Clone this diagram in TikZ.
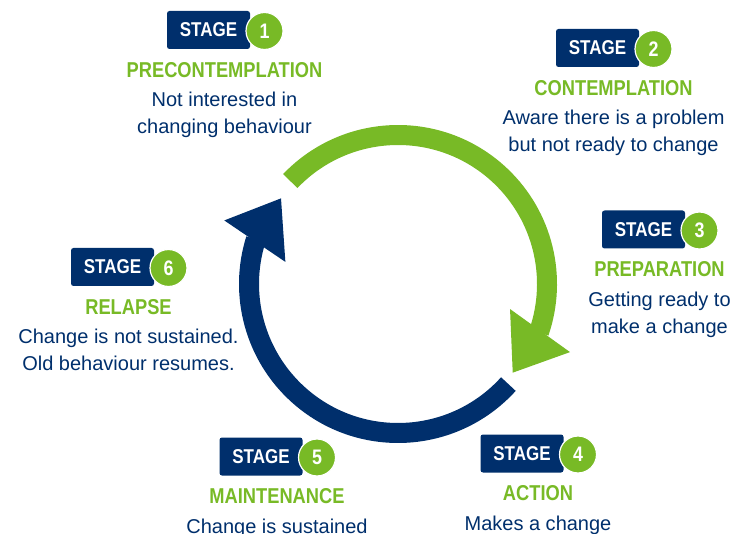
\documentclass[tikz,border=0pt]{standalone}
\usepackage{fontspec}
\setmainfont{Liberation Sans}
\newfontfamily\narrowfont[FakeStretch=0.85]{Liberation Sans}
\usetikzlibrary{positioning}
\definecolor{stageNavy}{RGB}{0,47,108}
\definecolor{stageGreen}{RGB}{120,186,38}

\begin{document}
\begin{tikzpicture}[
    x=1pt, y=1pt,
    ring/.style={line width=20pt},
    stagebox/.style={rounded corners=2.5pt, fill=stageNavy, text=white, minimum width=83pt, minimum height=38pt, inner sep=0pt, font=\narrowfont\bfseries\fontsize{20}{24}\selectfont},
    stagenum/.style={circle, fill=stageGreen, draw=white, line width=1.2pt, minimum size=37pt, inner sep=0pt, text=white, font=\narrowfont\bfseries\fontsize{21}{24}\selectfont},
    stagename/.style={text=stageGreen, inner sep=0pt, font=\narrowfont\bfseries\fontsize{21.5}{24}\selectfont},
    stagenote/.style={text=stageNavy, align=center, inner sep=0pt, anchor=north, font=\fontsize{20}{27}\selectfont}
  ]
  \useasboundingbox (0,0) rectangle (735,533);

  % the two arrows of the cycle; the navy one is the green one turned round
  \foreach \col/\rot in {stageGreen/0, stageNavy/181.5} {
    \begin{scope}[shift={(398,249)}, rotate=\rot]
      \draw[ring, draw=\col] (136.3:149pt) arc[start angle=136.3, end angle=-19, radius=149pt];
      \fill[\col] (-12.6:114.8pt) -- (-21.6:185pt) -- (-37.7:145pt) -- cycle;
    \end{scope}
  }

  % stage labels: badge, title and short note
  \foreach \n/\cx/\cy/\title/\note in {
      1/224.5/30/PRECONTEMPLATION/{Not interested in\\changing behaviour},
      2/613.5/48/CONTEMPLATION/{Aware there is a problem\\but not ready to change},
      3/659.5/229.5/PREPARATION/{Getting ready to\\make a change},
      4/538/453.5/ACTION/{Makes a change},
      5/277/456.5/MAINTENANCE/{Change is sustained},
      6/128.5/267/RELAPSE/{Change is not sustained.\\Old behaviour resumes.}} {
    \node[stagebox] (box\n) at ({\cx-16},{533-\cy}) {STAGE};
    \node[stagenum] (num\n) at ({\cx+40},{532-\cy}) {\n};
    \node[stagename] (name\n) at (\cx,{493-\cy}) {\title};
    \node[stagenote] (note\n) at (\cx,{471-\cy}) {\note};
  }
\end{tikzpicture}
\end{document}
